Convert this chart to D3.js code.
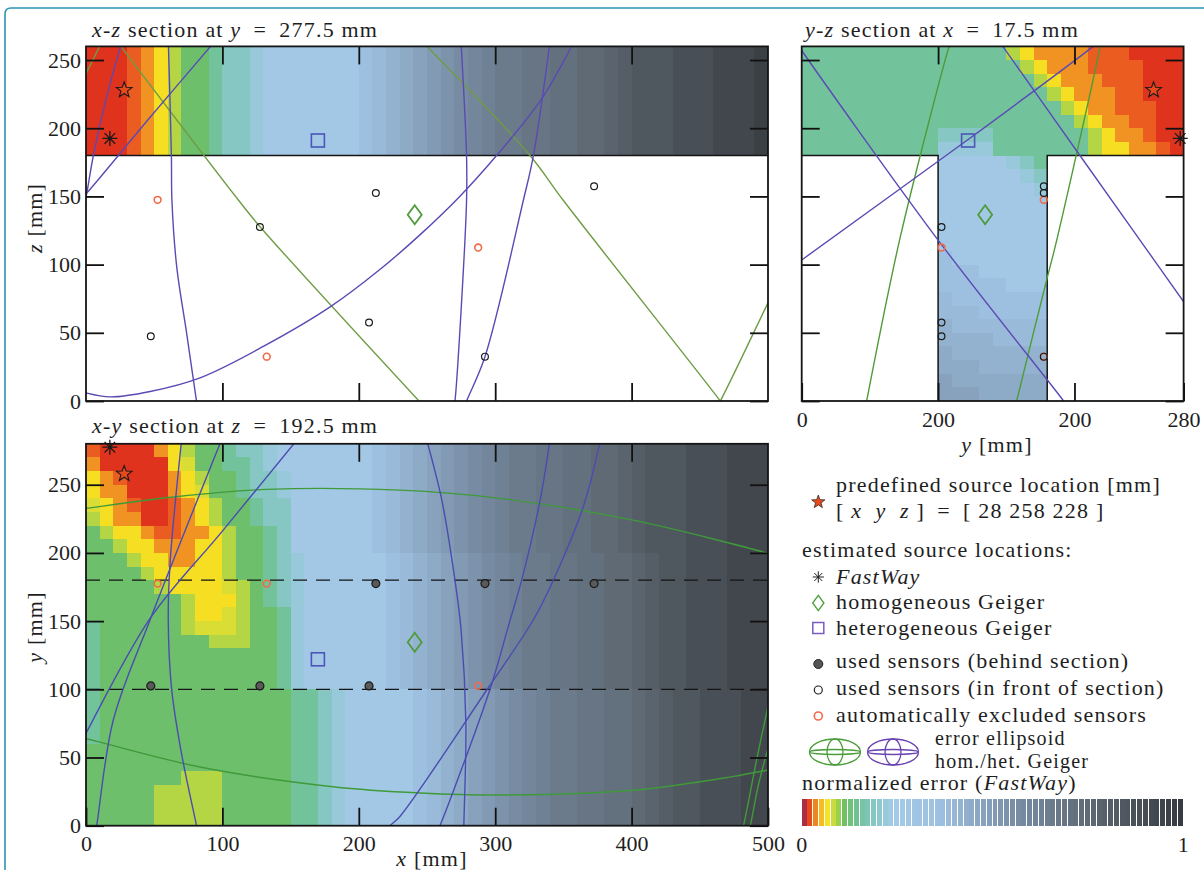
<!DOCTYPE html>
<html>
<head>
<meta charset="utf-8">
<script src="https://d3js.org/d3.v7.min.js"></script>
<style>
  body { margin: 0; background: #fff; }
  svg text { font-family: "Liberation Serif", "DejaVu Serif", serif; fill: #1e1e1e; white-space: pre; }
</style>
</head>
<body>
<script>
// ---------------- data ----------------
const xTicks = [0, 100, 200, 300, 400, 500];
const zTicks = [0, 50, 100, 150, 200, 250];
const yTicks = [0, 50, 100, 150, 200, 250];
const yzTicks = [0, 100, 200, 280];
const yzTickLabels = ["0", "200", "200", "280"];
const cbTickLabels = ["0", "1"];

// source locations [x, y, z] in mm
const sourceTrue = [28, 258, 228];
const sourceFastWay = [17.5, 277.5, 192.5];
const sourceHom = [241, 134.5, 136.5];
const sourceHet = [170, 122, 191];

// sensors [x, y, z]
const sensorsUsed = [
  [212.5, 177.5, 152.5], [372.5, 177.5, 157.5], [292.5, 177.5, 32.5],
  [127.5, 102.5, 127.5], [207.5, 102.5, 57.5], [47.5, 102.5, 47.5]
];
const sensorsExcluded = [
  [52.5, 177.5, 147.5], [132.5, 177.5, 32.5], [287.5, 102.5, 112.5]
];

// specimen geometry (T-section) and sensor rows
const flangeZ = 180;
const stemY = [100, 180];
const sensorRowsY = [100, 180];

// colour map of the normalized error
const cmapStops = [0, 0.012, 0.025, 0.04, 0.055, 0.068, 0.082, 0.097, 0.115, 0.15, 0.195, 0.24, 0.37, 0.55, 0.77, 1];
const cmapColors = ["#5a2d8c", "#dc2a1c", "#e8501f", "#f08c22", "#f5c421", "#f6e423", "#cfdc3b", "#9fd04c",
                    "#6dbf66", "#72c39c", "#88c7c8", "#a4cbe8", "#9dbfdf", "#7a90a8", "#5c6670", "#363a3f"];

// error levels, one character per 10 mm cell
const levelCodes = "RQOYXLGHTUBabcdefghijklmnopqrst";
const levelValues = [0.015, 0.028, 0.042, 0.066, 0.078, 0.09, 0.118, 0.15, 0.19, 0.22, 0.27,
  0.36, 0.39, 0.42, 0.45, 0.48, 0.51, 0.54, 0.57, 0.60, 0.63, 0.66, 0.69, 0.72, 0.75, 0.78, 0.81, 0.85, 0.89, 0.93, 0.97];

// x-z section, flange only (z 180..260), x 0..500
const xzHeat = ["RRRQOYLGGHTTUBBBBBBBabcdefghijkkllmmnnopqqqrrrssst"];

// y-z section: flange rows z 260 -> 180, y 0..280
const yzFlangeHeat = [
  "HHHHHHHHHHHHHHHLYOOOOQQQRRRR",
  "HHHHHHHHHHHHHHHHLYOOOQQQQRRR",
  "HHHHHHHHHHHHHHHHHLYOOOQQQRRR",
  "HHHHHHHHHHHHHHHHHHLYOOOQQRRR",
  "HHHHHHHHHHHHHHHHHHHLYOOQQQRR",
  "HHHHHHHHHHHHHHHHHHHHLYOOQQRR",
  "HHHHHHHHHHTTTTHHHHHHHLYOOQRR",
  "HHHHHHHHHHUUUUHHHHHHHLYYOOQR"
];
// y-z section: stem rows z 180 -> 0, y 100..180
const yzStemHeat = [
  "BBBBBUTH", "BBBBBBUT", "BBBBBBBU", "BBBBBBBB", "BBBBBBBB", "BBBBBBBB",
  "BBBBBBBB", "aBBBBBBB", "aaaBBBBB", "aaaaaBBB", "baaaaaaa", "bbbaaaaa",
  "cbbbbbbb", "ccccbbbb", "dccccccc", "dddccccc", "eddddddd", "eeeddddd"
];

// x-y section rows y 280 -> 0, x 0..500
const tailTop = "BBBBBBabcdefghijkkllmmnnopqqqrrrsss";
const tailMid = "UBBBBBBabcdefghijkkllmmnnopqqrrrsss";
const tailBot = "HHTUBBBBBabcdefghijkkllmmnopqqrrrss";
const xyHeat = [
  "QRRRROYLGGHTTUB" + tailTop,
  "ORRRRRYXGGHHTUB" + tailTop,
  "YOQRRROYLGGHTTU" + tailTop,
  "YOORRROYXGGHTTU" + tailTop,
  "XYOQRRQOYLGGHTT" + tailTop,
  "LYOORRQOYLGGHTT" + tailTop,
  "GLYYOQQOOYLGGHT" + tailTop,
  "GGLYYOOOYYLGGHT" + tailTop,
  "GGGLYYOOYYLGGHT" + tailMid,
  "GGGGLYYYYYLGGHT" + tailMid,
  "GGGGGLYYYYXLGHT" + tailMid,
  "GGGGGGGLYYYLGHT" + tailMid,
  "GGGGGGGLYYXLGGH" + tailMid,
  "HGGGGGGLXXXLGGH" + tailMid,
  "HGGGGGGGGLLLGGH" + tailMid,
  "HGGGGGGGGGGGGGH" + tailMid,
  "HGGGGGGGGGGGGGH" + tailMid,
  "HGGGGGGGGGGGGGH" + tailMid,
  "HGGGGGGGGGGGGGG" + tailBot,
  "HGGGGGGGGGGGGGG" + tailBot,
  "HGGGGGGGGGGGGGG" + tailBot,
  "HGGGGGGGGGGGGGG" + tailBot,
  "GGGGGGGGGGGGGGG" + tailBot,
  "GGGGGGGGGGGGGGG" + tailBot,
  "GGGGGGGLLLGGGGG" + tailBot,
  "GGGGGLLLLLGGGGG" + tailBot,
  "GGGGGLLLLLGGGGG" + tailBot,
  "GGGGGLLLLLGGGGG" + tailBot
];

// error ellipsoid sections [h, v] in mm
const xzHetCurves = [
  [[25.4, 260], [14.6, 221], [5.4, 180], [0.5, 152], [-2, 140]],
  [[60.4, 262], [62.6, 180], [63, 147], [66.5, 98.5], [73.8, 49.6], [81, 0], [81.5, -3]],
  [[-3, 7], [0, 6], [17.6, 3], [47, 7], [83.6, 17], [130, 40], [179, 69], [215, 96], [245, 122], [274, 150], [301, 180], [333, 220], [357, 262]],
  [[275, 262], [279, 180], [279, 147], [276, 84], [270.5, 0], [270, -3]],
  [[340, 262], [328, 180], [320.6, 147], [292.5, 32.5], [279, 0], [278, -3]],
  [[93, 262], [47, 208], [1, 153], [-2, 150]]
];
const xzHomCurves = [
  [[248, 262], [325.5, 180], [350, 147], [465, 0], [467, -3]],
  [[24, 262], [112, 147], [127.6, 127.8], [246, -2]],
  [[463, -3], [465, 0], [500, 72], [502, 76]],
  [[-2, 236], [0, 240], [10, 260], [11, 262]]
];
const yzHetCurves = [
  [[-2, 260], [0, 257], [100, 118], [192, 0], [194, -3]],
  [[-3, 101], [0, 103.4], [121, 191], [213, 259.5], [216, 262]],
  [[146, 262], [147.8, 259.5], [204, 180], [248, 118], [282, 70]]
];
const yzHomCurves = [
  [[109, 262], [108, 259.5], [72, 119], [47.6, 0], [47, -3]],
  [[219, 262], [218.7, 259.5], [187, 118], [179.6, 88.7], [157.6, 0], [157, -3]]
];
const xyHetCurves = [
  [[70, 282], [61.6, 192], [60.3, 151], [62.8, 100], [70, 53], [81, 0], [81.5, -3]],
  [[99, 282], [47, 151], [20, 77.5], [7.8, 0], [7, -3]],
  [[154, 282], [100, 216], [47, 152], [0, 67.7], [-2, 64]],
  [[250, 282], [260.8, 239], [270.5, 180], [275, 143.5], [278.5, 75], [277, 0], [277, -3]],
  [[340, 282], [333, 239], [319.4, 180], [311, 151], [296, 99.5], [259.5, 0], [258, -3]],
  [[377, 282], [364.6, 234], [342.6, 180], [328, 151], [293.8, 99.5], [230, 6.6], [222.9, 0], [221, -3]]
];
const xyHomCurves = [
  [[-2, 232.5], [0, 232.7], [64, 241], [132.5, 246.6], [230, 246], [303.5, 240], [401, 224], [500, 199.7], [502, 199]],
  [[-2, 64.5], [0, 64], [83.6, 43], [181, 28.6], [245, 24], [303.5, 22.5], [401, 26], [474, 36], [500, 40.8], [502, 41.2]],
  [[501, 92], [492, 50], [482, 0], [481, -3]],
  [[501, 60], [493, 30], [487, 0], [486, -3]]
];

// ---------------- drawing ----------------
const W = 1204, H = 870;
const TICK = 18;
const FS = 22;
const LS = 1.2;   // wider letter spacing, closer to the LaTeX look
const FONT = "Liberation Serif, DejaVu Serif, serif";
const HET = "#5a4ab4", HOM = "#4f9a3a", ORANGE = "#f06a48";
const EQ = "\u2002=\u2002";

const cmap = d3.scaleLinear().domain(cmapStops).range(cmapColors).clamp(true);
const levelOf = ch => levelValues[levelCodes.indexOf(ch)];

const svg = d3.select("body").append("svg").attr("width", W).attr("height", H)
  .attr("font-family", FONT);

// outer frame of the figure
svg.append("path").attr("d", "M5,870 V14 Q5,8 11,8 H1204")
  .attr("fill", "none").attr("stroke", "#2a94b6").attr("stroke-width", 1.6);

function makePanel(id, xRange, yRange, xDom, yDom) {
  const sx = d3.scaleLinear().domain(xDom).range(xRange);
  const sy = d3.scaleLinear().domain(yDom).range(yRange);
  const g = svg.append("g");
  svg.append("clipPath").attr("id", id).append("rect")
    .attr("x", xRange[0]).attr("y", yRange[1])
    .attr("width", xRange[1] - xRange[0]).attr("height", yRange[0] - yRange[1]);
  const plot = g.append("g").attr("clip-path", `url(#${id})`);
  return { sx, sy, g, plot };
}

function drawHeat(p, rows, x0, y0, dx, dy) {
  const cells = [];
  rows.forEach((row, r) => {
    const yTop = y0 + (rows.length - r) * dy;
    [...row].forEach((ch, c) => cells.push({ x: x0 + c * dx, y: yTop, v: levelOf(ch) }));
  });
  const cw = p.sx(dx) - p.sx(0), ch = p.sy(0) - p.sy(dy);
  p.plot.append("g").attr("shape-rendering", "crispEdges")
    .selectAll("rect").data(cells).join("rect")
    .attr("x", d => p.sx(d.x)).attr("y", d => p.sy(d.y))
    .attr("width", cw + 0.6).attr("height", ch + 0.6)
    .attr("fill", d => cmap(d.v));
}

function drawCurves(p, curves, color) {
  const line = d3.line().x(d => p.sx(d[0])).y(d => p.sy(d[1])).curve(d3.curveCatmullRom.alpha(0.5));
  p.plot.append("g").selectAll("path").data(curves).join("path")
    .attr("d", line).attr("fill", "none").attr("stroke", color).attr("stroke-width", 1.4);
}

function styleAxis(g) {
  g.select(".domain").remove();
  g.selectAll(".tick line").attr("stroke", "#111").attr("stroke-width", 1.8);
  g.attr("font-family", FONT).attr("font-size", FS);
  g.selectAll(".tick text").attr("font-size", FS).attr("font-family", FONT).attr("fill", "#1e1e1e");
}

function drawAxes(p, o) {
  const [x0, x1] = p.sx.range(), [y0, y1] = p.sy.range();
  p.g.append("g").attr("transform", `translate(${x0},0)`)
    .call(d3.axisLeft(p.sy).tickValues(o.vTicks).tickSize(-TICK).tickPadding(5)
      .tickFormat(o.vLabels ? d3.format("d") : ""))
    .call(styleAxis);
  p.g.append("g").attr("transform", `translate(${x1},0)`)
    .call(d3.axisRight(p.sy).tickValues(o.vTicks).tickSize(-TICK).tickFormat(""))
    .call(styleAxis);
  p.g.append("g").attr("transform", `translate(0,${y1})`)
    .call(d3.axisTop(p.sx).tickValues(o.hInner).tickSize(-TICK).tickFormat(""))
    .call(styleAxis);
  const bottom = d3.axisBottom(p.sx).tickSize(-TICK).tickPadding(10);
  if (o.hLabels) bottom.tickValues(o.hLabelTicks).tickFormat((d, i) => o.hLabels[i]);
  else bottom.tickValues(o.hInner).tickFormat("");
  p.g.append("g").attr("transform", `translate(0,${y0})`).call(bottom).call(styleAxis);
}

function frame(p) {
  const [x0, x1] = p.sx.range(), [y0, y1] = p.sy.range();
  p.g.append("rect").attr("x", x0).attr("y", y1).attr("width", x1 - x0).attr("height", y0 - y1)
    .attr("fill", "none").attr("stroke", "#151515").attr("stroke-width", 1.8);
}

function richText(parent, x, y, parts, opts = {}) {
  const t = parent.append("text").attr("x", x).attr("y", y)
    .attr("font-size", opts.size || FS).attr("font-family", FONT)
    .attr("letter-spacing", opts.ls === undefined ? LS : opts.ls);
  if (opts.anchor) t.attr("text-anchor", opts.anchor);
  if (opts.transform) t.attr("transform", opts.transform).attr("x", 0).attr("y", 0);
  parts.forEach(([s, it]) => t.append("tspan").attr("font-style", it ? "italic" : null).text(s));
  return t;
}

// marker shapes
const starPath = (() => {
  const pts = d3.range(10).map(i => {
    const a = -Math.PI / 2 + i * Math.PI / 5, r = i % 2 ? 3.4 : 8.2;
    return [r * Math.cos(a), r * Math.sin(a)];
  });
  return "M" + pts.join("L") + "Z";
})();
const asteriskPath = "M0,-7.5V7.5M-7.5,0H7.5M-5.3,-5.3L5.3,5.3M-5.3,5.3L5.3,-5.3";
const diamondPath = "M0,-9.5L7,0L0,9.5L-7,0Z";

function markers(p, h, v, behind) {
  const at = (a, b) => `translate(${p.sx(a)},${p.sy(b)})`;
  const m = p.g.append("g");
  // sensors: excluded first so the used ones lie on top
  sensorsExcluded.forEach(s => m.append("circle").attr("transform", at(s[h], s[v])).attr("r", 3.4)
    .attr("fill", "none").attr("stroke", ORANGE).attr("stroke-width", 1.6));
  sensorsUsed.forEach(s => m.append("circle").attr("transform", at(s[h], s[v]))
    .attr("r", behind ? 4 : 3.4)
    .attr("fill", behind ? "#5a5a5a" : "none").attr("stroke", "#1a1a1a").attr("stroke-width", 1.2));
  m.append("path").attr("d", diamondPath).attr("transform", at(sourceHom[h], sourceHom[v]))
    .attr("fill", "none").attr("stroke", HOM).attr("stroke-width", 1.8);
  m.append("rect").attr("x", -6.5).attr("y", -6.5).attr("width", 13).attr("height", 13)
    .attr("transform", at(sourceHet[h], sourceHet[v]))
    .attr("fill", "none").attr("stroke", "#4a56b8").attr("stroke-width", 1.6);
  m.append("path").attr("d", starPath).attr("transform", at(sourceTrue[h], sourceTrue[v]))
    .attr("fill", "#e84a1e").attr("stroke", "#1a1a1a").attr("stroke-width", 1.1);
  m.append("path").attr("d", asteriskPath).attr("transform", at(sourceFastWay[h], sourceFastWay[v]))
    .attr("fill", "none").attr("stroke", "#1a1a1a").attr("stroke-width", 1.3);
}

// ---- panel A: x-z section ----
const pA = makePanel("clipA", [86, 768], [401, 46.4], [0, 500], [0, 260]);
drawHeat(pA, xzHeat, 0, flangeZ, 10, 80);
pA.plot.append("line").attr("x1", pA.sx(0)).attr("x2", pA.sx(500))
  .attr("y1", pA.sy(flangeZ)).attr("y2", pA.sy(flangeZ)).attr("stroke", "#151515").attr("stroke-width", 1.5);
drawCurves(pA, xzHomCurves, "#6f9c44");
drawCurves(pA, xzHetCurves, HET);
markers(pA, 0, 2, false);
drawAxes(pA, { vTicks: zTicks, vLabels: true, hInner: [100, 200, 300, 400] });
frame(pA);
richText(svg, 92, 37, [["x", 1], ["-", 0], ["z", 1], [" section at ", 0], ["y", 1], [EQ + "277.5 mm", 0]]);
richText(svg, 0, 0, [["z", 1], [" [mm]", 0]], { anchor: "middle", transform: "translate(42,218) rotate(-90)" });

// ---- panel B: y-z section ----
const pB = makePanel("clipB", [801.7, 1183.6], [401, 46.4], [0, 280], [0, 260]);
drawHeat(pB, yzFlangeHeat, 0, flangeZ, 10, 10);
drawHeat(pB, yzStemHeat, stemY[0], 0, 10, 10);
const tLine = d3.line().x(d => pB.sx(d[0])).y(d => pB.sy(d[1]));
pB.plot.append("path").attr("d", tLine([[0, flangeZ], [stemY[0], flangeZ], [stemY[0], 0]]))
  .attr("fill", "none").attr("stroke", "#151515").attr("stroke-width", 1.5);
pB.plot.append("path").attr("d", tLine([[280, flangeZ], [stemY[1], flangeZ], [stemY[1], 0]]))
  .attr("fill", "none").attr("stroke", "#151515").attr("stroke-width", 1.5);
drawCurves(pB, yzHomCurves, HOM);
drawCurves(pB, yzHetCurves, HET);
markers(pB, 1, 2, false);
drawAxes(pB, { vTicks: zTicks, vLabels: false, hInner: [100, 200], hLabelTicks: yzTicks, hLabels: yzTickLabels });
frame(pB);
richText(svg, 805, 37, [["y", 1], ["-", 0], ["z", 1], [" section at ", 0], ["x", 1], [EQ + "17.5 mm", 0]]);
richText(svg, 997, 452, [["y", 1], [" [mm]", 0]], { anchor: "middle" });

// ---- panel C: x-y section ----
const pC = makePanel("clipC", [86, 768], [825.7, 443.8], [0, 500], [0, 280]);
drawHeat(pC, xyHeat, 0, 0, 10, 10);
pC.plot.append("g").selectAll("line").data(sensorRowsY).join("line")
  .attr("x1", pC.sx(0)).attr("x2", pC.sx(500)).attr("y1", d => pC.sy(d)).attr("y2", d => pC.sy(d))
  .attr("stroke", "#151515").attr("stroke-width", 1.3).attr("stroke-dasharray", "14,9");
drawCurves(pC, xyHomCurves, "#3f9a3a");
drawCurves(pC, xyHetCurves, "#4b4cb2");
markers(pC, 0, 1, true);
drawAxes(pC, { vTicks: yTicks, vLabels: true, hInner: [100, 200, 300, 400], hLabelTicks: xTicks, hLabels: xTicks.map(String) });
frame(pC);
richText(svg, 92, 433, [["x", 1], ["-", 0], ["y", 1], [" section at ", 0], ["z", 1], [EQ + "192.5 mm", 0]]);
richText(svg, 0, 0, [["y", 1], [" [mm]", 0]], { anchor: "middle", transform: "translate(42,627) rotate(-90)" });
richText(svg, 432, 866, [["x", 1], [" [mm]", 0]], { anchor: "middle" });

// ---------------- legend ----------------
const lg = svg.append("g");
const mx = 818.3;
lg.append("path").attr("d", starPath).attr("transform", `translate(${mx},502) scale(0.85)`)
  .attr("fill", "#e84a1e").attr("stroke", "#1a1a1a").attr("stroke-width", 0.8);
richText(lg, 836, 492, [["predefined source location [mm]", 0]]);
richText(lg, 836, 518, [["[ ", 0], ["x", 1], ["  ", 0], ["y", 1], ["  ", 0], ["z", 1], [` ]${EQ}[ ${sourceTrue.join(" ")} ]`, 0]]);
richText(lg, 802, 557, [["estimated source locations:", 0]]);
lg.append("path").attr("d", asteriskPath).attr("transform", `translate(${mx},577) scale(0.75)`)
  .attr("fill", "none").attr("stroke", "#1a1a1a").attr("stroke-width", 1.3);
richText(lg, 836, 584, [["FastWay", 1]]);
lg.append("path").attr("d", diamondPath).attr("transform", `translate(${mx},603) scale(0.8)`)
  .attr("fill", "none").attr("stroke", "#4fa03c").attr("stroke-width", 1.7);
richText(lg, 836, 609, [["homogeneous Geiger", 0]]);
lg.append("rect").attr("x", mx - 5.5).attr("y", 622.5).attr("width", 11).attr("height", 11)
  .attr("fill", "none").attr("stroke", "#7a5cc0").attr("stroke-width", 1.5);
richText(lg, 836, 635, [["heterogeneous Geiger", 0]]);
lg.append("circle").attr("cx", mx).attr("cy", 664).attr("r", 4.5).attr("fill", "#555").attr("stroke", "#222");
richText(lg, 836, 668, [["used sensors (behind section)", 0]]);
lg.append("circle").attr("cx", mx).attr("cy", 690).attr("r", 4).attr("fill", "none").attr("stroke", "#222").attr("stroke-width", 1.2);
richText(lg, 836, 695, [["used sensors (in front of section)", 0]]);
lg.append("circle").attr("cx", mx).attr("cy", 716).attr("r", 4).attr("fill", "none").attr("stroke", ORANGE).attr("stroke-width", 1.6);
richText(lg, 836, 722, [["automatically excluded sensors", 0]]);

function ellipsoidIcon(cx, cy, color) {
  const e = lg.append("g").attr("transform", `translate(${cx},${cy})`)
    .attr("fill", "none").attr("stroke", color).attr("stroke-width", 1.3);
  e.append("ellipse").attr("rx", 25.5).attr("ry", 13);
  e.append("ellipse").attr("rx", 8).attr("ry", 13);
  e.append("ellipse").attr("rx", 25.5).attr("ry", 2.5);
}
ellipsoidIcon(835, 752, "#4a9e3a");
ellipsoidIcon(893, 752, "#6a44b4");
richText(lg, 935, 745, [["error ellipsoid", 0]], { size: 20 });
richText(lg, 935, 768, [["hom./het. Geiger", 0]], { size: 20 });
richText(lg, 802, 790, [["normalized error (", 0], ["FastWay", 1], [")", 0]]);

// colour bar
const cbx = d3.scaleLinear().domain([0, 1]).range([801.7, 1183.3]);
const nStripes = 66;
lg.append("g").attr("shape-rendering", "crispEdges").selectAll("rect").data(d3.range(nStripes)).join("rect")
  .attr("x", i => cbx(i / nStripes)).attr("y", 799)
  .attr("width", cbx(1 / nStripes) - cbx(0) - 0.8).attr("height", 27)
  .attr("fill", i => cmap((i + 0.5) / nStripes));
lg.selectAll(".cbt").data(cbTickLabels).join("text").attr("class", "cbt")
  .attr("font-family", FONT)
  .attr("x", (d, i) => cbx(i)).attr("y", 852).attr("text-anchor", "middle").attr("font-size", FS).text(d => d);
</script>
</body>
</html>
